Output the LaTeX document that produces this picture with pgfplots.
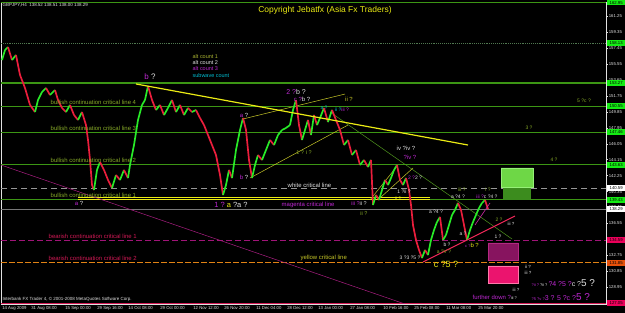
\documentclass[border=0pt]{standalone}
\usepackage{fontspec}
\setmainfont{Liberation Sans}
\usepackage{pgfplots}
\usepackage{pgfplotstable}
\pgfplotsset{compat=1.18}
\definecolor{lgr}{RGB}{60,150,20}
\definecolor{olv}{RGB}{135,170,40}
\definecolor{mag}{RGB}{190,40,210}
\definecolor{wht}{RGB}{225,225,225}
\definecolor{yel}{RGB}{235,235,20}
\definecolor{ylo}{RGB}{200,200,40}
\definecolor{cyn}{RGB}{0,190,210}
\definecolor{crim}{RGB}{210,25,85}
\definecolor{boxg}{RGB}{20,235,20}
\definecolor{boxr}{RGB}{235,0,90}
\definecolor{boxo}{RGB}{230,80,10}
\definecolor{upc}{RGB}{40,235,40}
\definecolor{dnc}{RGB}{235,30,60}
\newcommand\fs[1]{\fontsize{#1}{#1}\selectfont}

\pgfplotstableread{
x p c
2 156.01 1
5 157.20 1
8 157.56 0
12 156.01 1
16 156.61 0
20 154.23 0
25 152.68 0
30 150.66 0
35 149.82 1
38 151.25 1
42 152.20 1
46 152.68 0
50 151.85 1
55 152.44 0
58 151.25 0
62 150.30 0
66 149.82 1
70 150.66 0
74 149.46 0
78 148.87 1
82 149.82 0
86 148.27 0
88 146.49 0
90 144.11 0
92 141.13 0
94 140.54 1
97 142.92 1
100 143.87 0
104 142.92 0
108 141.73 0
112 140.77 1
116 142.32 0
120 141.73 1
124 142.92 0
128 141.96 1
130 143.51 1
134 145.89 1
138 148.87 1
142 150.66 1
145 151.25 1
148 152.92 0
152 151.25 0
156 150.06 1
160 150.66 0
164 149.46 1
168 150.30 1
172 151.25 0
176 149.82 1
180 150.66 0
184 149.46 1
188 150.30 0
192 149.82 1
196 150.06 0
200 149.11 0
204 148.27 0
208 147.08 0
212 145.89 0
216 144.70 0
220 142.32 0
223 139.94 1
226 141.13 1
229 142.92 0
232 141.96 1
236 145.30 1
240 147.68 1
243 149.11 0
246 147.68 0
249 144.11 0
252 141.96 1
255 143.51 1
258 144.70 0
262 144.11 1
266 145.30 1
270 146.49 0
274 145.89 1
278 147.08 1
282 147.68 1
286 147.92 1
290 148.27 1
293 150.06 1
296 151.25 0
299 148.27 0
302 146.49 1
305 147.68 1
308 148.87 0
311 147.08 1
314 149.46 0
317 148.27 1
320 149.11 1
324 150.30 0
328 148.63 1
332 150.06 0
336 148.87 0
340 147.68 0
344 145.89 1
348 146.49 0
352 144.70 1
356 145.30 0
360 143.51 1
364 144.11 0
368 143.27 1
371 144.11 0
373 138.75 1
376 139.94 0
379 139.35 1
382 140.54 1
385 141.73 0
388 141.13 1
391 141.96 1
394 142.92 1
397 143.51 0
400 141.73 0
403 141.13 1
406 141.96 0
409 140.54 0
411 138.75 0
413 136.37 0
416 134.58 0
419 133.39 0
422 132.44 1
425 133.39 0
428 132.80 1
431 134.58 1
434 135.77 1
437 136.73 1
440 137.32 0
443 134.58 1
446 135.18 1
449 136.37 1
452 137.56 1
455 138.16 1
458 138.99 0
461 138.16 0
464 136.37 0
467 134.58 1
470 135.77 1
473 136.73 1
476 137.56 1
479 138.39 1
482 138.99 1
485 139.35 0
488 138.27 0
}\price

\begin{document}
\begin{tikzpicture}
\fill[black] (0,0) rectangle (625bp,313bp);
\useasboundingbox (0,0) rectangle (625bp,313bp);
\begin{axis}[
  at={(1bp,9bp)}, anchor=south west,
  scale only axis, width=605bp, height=302bp,
  xmin=1, xmax=606, ymin=126.96, ymax=162.92,
  axis line style={draw=wht, line width=0.4pt},
  xtick pos=bottom, ytick pos=right, yticklabel pos=right,
  tick align=outside, major tick length=1.5bp,
  tick style={wht, line width=0.3pt},
  xtick={2,31,65,97,128,160,193,224,256,287,318,350,383,414,446,478},
  xticklabels={14 Aug 2009,31 Aug 08:00,15 Sep 00:00,29 Sep 16:00,14 Oct 08:00,29 Oct 00:00,12 Nov 12:00,26 Nov 20:00,11 Dec 04:00,28 Dec 12:00,13 Jan 00:00,27 Jan 08:00,10 Feb 16:00,25 Feb 08:00,11 Mar 08:00,25 Mar 20:00},
  xticklabel style={font=\fs{4.3}, text=wht, anchor=north west, inner sep=0.6bp, xshift=-0.5bp},
  ytick={128.95,130.85,132.75,134.65,136.55,138.45,140.35,142.25,144.15,146.05,147.95,149.85,151.75,153.65,155.55,157.45,159.35,161.25},
  yticklabel style={font=\fs{4.3}, text=wht, anchor=west, inner sep=0.6bp, xshift=0.5bp,
    /pgf/number format/.cd, fixed, fixed zerofill, precision=2, assume math mode=true},
  colormap={updown}{color=(dnc) color=(upc)},
  point meta min=0, point meta max=1,
  no markers,
]
% horizontal levels
\addplot[lgr, line width=1pt] coordinates {(1,162.85) (606,162.85)};
\addplot[color={rgb,255:red,80;green,120;blue,80}, densely dotted, line width=0.9pt] coordinates {(1,158.03) (606,158.03)};
\addplot[lgr, line width=1.2pt] coordinates {(1,153.27) (606,153.27)};
\addplot[lgr, line width=0.8pt] coordinates {(1,150.54) (606,150.54)};
\addplot[lgr, line width=0.6pt] coordinates {(1,147.44) (606,147.44)};
\addplot[lgr, line width=0.6pt] coordinates {(1,143.55) (606,143.55)};
\addplot[color={rgb,255:red,150;green,150;blue,150}, line width=1.3pt, dash pattern=on 6bp off 4bp] coordinates {(1,140.70) (606,140.70)};
\addplot[lgr, line width=0.6pt] coordinates {(1,139.38) (606,139.38)};
\addplot[color={rgb,255:red,120;green,120;blue,120}, line width=0.6pt] coordinates {(1,138.27) (606,138.27)};
\addplot[color={rgb,255:red,160;green,20;blue,120}, line width=0.8pt, dash pattern=on 6bp off 3bp] coordinates {(1,134.58) (606,134.58)};
\addplot[color={rgb,255:red,225;green,130;blue,20}, line width=1.1pt, dash pattern=on 6bp off 2bp] coordinates {(1,131.85) (606,131.85)};
\addplot[crim, line width=0.8pt] coordinates {(1,127.05) (606,127.05)};
% yellow double level
\addplot[yel, line width=0.6pt] coordinates {(78,139.70) (430,139.70)};
\addplot[yel, line width=0.6pt] coordinates {(78,139.48) (430,139.48)};
% boxes
\addplot[draw={rgb,255:red,150;green,240;blue,120}, fill={rgb,255:red,110;green,215;blue,70}] coordinates {(501,143.16) (533,143.16) (533,140.89) (501,140.89) (501,143.16)};
\addplot[draw=none, fill={rgb,255:red,60;green,140;blue,30}] coordinates {(503,140.77) (531,140.77) (531,139.40) (503,139.40)};
\addplot[draw={rgb,255:red,180;green,40;blue,130}, fill={rgb,255:red,135;green,20;blue,95}] coordinates {(488,134.23) (518,134.23) (518,132.20) (488,132.20) (488,134.23)};
\addplot[draw={rgb,255:red,255;green,120;blue,170}, fill={rgb,255:red,235;green,20;blue,110}] coordinates {(488,131.49) (518,131.49) (518,129.46) (488,129.46) (488,131.49)};
% trend lines
\addplot[color={rgb,255:red,170;green,30;blue,130}, line width=0.5pt] coordinates {(1,143.51) (405,126.96)};
\addplot[color={rgb,255:red,80;green,150;blue,30}, line width=0.5pt] coordinates {(330,149.82) (512,134.70)};
\addplot[ylo, line width=0.5pt] coordinates {(243,148.99) (345,151.96)};
\addplot[ylo, line width=0.5pt] coordinates {(250,141.96) (348,148.27)};
\addplot[ylo, line width=0.5pt] coordinates {(370,139.35) (398,143.51)};
\addplot[ylo, line width=0.5pt] coordinates {(380,139.58) (413,143.16)};
% price
\addplot[mesh, shader=flat corner, point meta=explicit, line width=1.7pt] table[x=x, y=p, meta=c] {\price};
\addplot[yel, line width=1.2pt] coordinates {(136,153.16) (468,145.89)};
\addplot[color={rgb,255:red,245;green,40;blue,90}, line width=1pt] coordinates {(423,131.96) (515,137.44)};
\addplot[color={rgb,255:red,210;green,40;blue,170}, line width=0.6pt] coordinates {(475,136.37) (490,138.99)};
\end{axis}

\begin{scope}[x=1bp, y=-1bp, yshift=313bp, inner sep=0.5bp]
% price boxes on the axis
\tikzset{pbox/.style={anchor=west, font=\fs{4.3}, text=black, minimum height=5.5bp, inner sep=0.4bp, minimum width=18bp}}
\node[pbox, fill=boxg] at (607,2.6) {162.95};
\node[pbox, fill=boxg] at (607,43) {158.13};
\node[pbox, fill=boxg] at (607,83) {153.27};
\node[pbox, fill=boxg] at (607,106) {150.55};
\node[pbox, fill=boxg] at (607,132) {147.46};
\node[pbox, fill=boxg] at (607,165) {143.63};
\node[pbox, fill=white] at (607,188) {140.59};
\node[pbox, fill=boxg] at (607,200) {139.43};
\node[pbox, fill=white] at (607,209) {138.29};
\node[pbox, fill=boxr] at (607,240) {134.59};
\node[pbox, fill=boxo] at (607,263) {131.85};
\node[pbox, fill=boxr] at (607,303) {127.05};
% header / footer / title
\node[anchor=west, font=\fs{4.5}, text=wht] at (2,5) {GBPJPY,H4\ \ 138.52 138.51 138.00 138.29};
\node[anchor=west, font=\fs{4.5}, text=wht] at (2,299) {Interbank FX Trader 4, \textcopyright\ 2001-2008 MetaQuotes Software Corp.};
\node[font=\fs{8.5}, text=yel] at (325,10) {Copyright Jebatfx (Asia Fx Traders)};
% legend
\node[anchor=west, font=\fs{5.5}, text={rgb,255:red,170;green,180;blue,50}] at (192,57) {alt count 1};
\node[anchor=west, font=\fs{5.5}, text=wht] at (192,63) {alt count 2};
\node[anchor=west, font=\fs{5.5}, text=mag] at (192,69) {alt count 3};
\node[anchor=west, font=\fs{5.5}, text=cyn] at (192,76) {subwave count};
% line labels
\node[anchor=west, font=\fs{6}, text=olv] at (50,102) {bullish continuation critical line 4};
\node[anchor=west, font=\fs{6}, text=olv] at (50,128) {bullish continuation critical line 3};
\node[anchor=west, font=\fs{6}, text=olv] at (50,160) {bullish continuation critical line 2};
\node[anchor=west, font=\fs{6}, text=olv] at (50,195) {bullish continuation critical line 1};
\node[anchor=west, font=\fs{6}, text=wht] at (287,185) {white critical line};
\node[anchor=west, font=\fs{6}, text=mag] at (281,205) {magenta critical line};
\node[anchor=west, font=\fs{6}, text=crim] at (48,236) {bearish continuation critical line 1};
\node[anchor=west, font=\fs{6}, text=crim] at (48,258) {bearish continuation critical line 2};
\node[anchor=west, font=\fs{6}, text=ylo] at (300,258) {yellow critical line};
\node[anchor=west, font=\fs{6}, text=mag] at (472,297) {further down ?\textcolor{wht}{\fs{4}iii ?}};
% wave labels
\node[font=\fs{8}, text=mag] at (150,77) {b \textcolor{wht}{?}};
\node[font=\fs{7}, text=mag] at (296,92) {2 ?\textcolor{wht}{b ?}};
\node[font=\fs{6}, text=mag] at (302,99) {c ?\textcolor{wht}{b ?}};
\node[font=\fs{6}, text=ylo] at (349,99) {ii ?};
\node[font=\fs{5}, text=olv] at (584,101) {5 ?c ?};
\node[font=\fs{5}, text=olv] at (529,128) {3 ?};
\node[font=\fs{5}, text=olv] at (554,160) {4 ?};
\node[font=\fs{5}, text=cyn] at (324,108) {a ?};
\node[font=\fs{5}, text=mag] at (342,110) {\textcolor{cyn}{ii ?}iii ?};
\node[font=\fs{6}, text=wht] at (406,148) {iv ?iv ?};
\node[font=\fs{6}, text=mag] at (410,157) {?iv ?};
\node[font=\fs{5.5}, text=olv] at (304,153) {1 ? i ?};
\node[font=\fs{6}, text=mag] at (244,115) {a \textcolor{wht}{?}};
\node[font=\fs{6}, text=mag] at (244,177) {b \textcolor{wht}{?}};
\node[font=\fs{6}, text=mag] at (79,203) {a \textcolor{wht}{?}};
\node[font=\fs{7.5}, text=mag] at (231,205) {1 ?\ \textcolor{yel}{a}\ \textcolor{wht}{?a ?}};
\node[font=\fs{5.5}, text=mag] at (359,204) {iii ?\textcolor{wht}{ii ?}};
\node[font=\fs{5.5}, text=olv] at (364,214) {ii ?};
\node[font=\fs{5}, text=mag] at (415,178) {2 ?\textcolor{wht}{2 ?}};
\node[font=\fs{5}, text=wht] at (404,192) {1 ?ii ?};
\node[font=\fs{5}, text=yel] at (398,199) {ii ?};
\node[font=\fs{5}, text=olv] at (462,190) {iii ?};
\node[font=\fs{5}, text=olv] at (488,190) {i ?};
\node[font=\fs{5}, text=wht] at (458,197) {a ?4 ?};
\node[font=\fs{5}, text=mag] at (487,197) {iii ?\textcolor{wht}{c ?4 ?}};
\node[font=\fs{5}, text=wht] at (436,212) {a ?4 ?};
\node[font=\fs{5}, text=wht] at (447,245) {b ?};
\node[font=\fs{5}, text=wht] at (463,234) {a ?};
\node[font=\fs{6}, text=mag] at (472,245) {\fs{4}c ?\textcolor{yel}{\fs{6}b ?}};
\node[font=\fs{5}, text=olv] at (444,252) {a ?V ?};
\node[font=\fs{5}, text=wht] at (410,258) {3 ?3 ?5 ?};
\node[font=\fs{9}, text=yel] at (446,264) {c ?5 ?};
\node[font=\fs{5}, text=olv] at (499,220) {2 ?};
\node[font=\fs{4.5}, text=wht] at (511,224) {iii ?};
\node[font=\fs{5}, text=wht] at (498,237) {1 ?};
\node[font=\fs{4.5}, text=wht] at (528,267) {ii ?};
\node[font=\fs{4.5}, text=wht] at (528,273) {iii ?};
\node[font=\fs{4.5}, text=wht] at (516,290) {iii ?};
\node[anchor=west, text=mag] at (531,283) {\fs{4}?ii ?\ \textcolor{wht}{?ii ?}\ \fs{7}?4 ?5 ?\textcolor{wht}{c ?}\fs{10}\textcolor{wht}{5 ?}};
\node[anchor=west, text=mag] at (531,297) {\fs{4}?5 ?v ?\fs{7}3 ? 5 ?c ?\fs{10}5 ?};
\end{scope}
\end{tikzpicture}
\end{document}
